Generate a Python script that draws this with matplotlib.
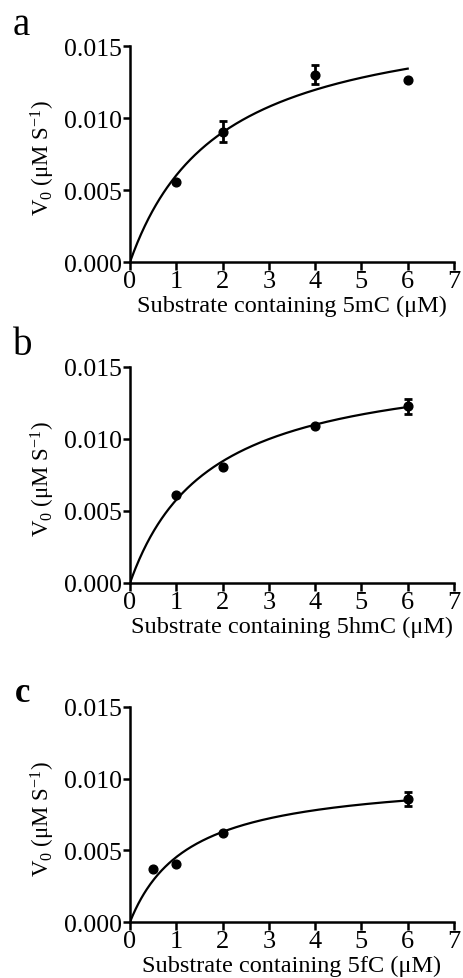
import numpy as np
import matplotlib
matplotlib.use("Agg")
import matplotlib.pyplot as plt

plt.rcParams['font.family'] = ['Liberation Serif', 'DejaVu Serif']
plt.rcParams['mathtext.fontset'] = 'custom'
plt.rcParams['mathtext.rm'] = 'Liberation Serif'
plt.rcParams['mathtext.it'] = 'Liberation Serif:italic'
plt.rcParams['mathtext.default'] = 'rm'

# ---- data ----
panel_letters = ['a', 'b', 'c']
substrates = ['5mC', '5hmC', '5fC']

x_a = [1, 2, 4, 6]
y_a = [0.00558, 0.00905, 0.01302, 0.01267]
err_a = [0.0, 0.00075, 0.00068, 0.0]

x_b = [1, 2, 4, 6]
y_b = [0.00609, 0.00806, 0.01088, 0.01229]
err_b = [0.0, 0.0, 0.0, 0.00052]

x_c = [0.5, 1, 2, 6]
y_c = [0.00367, 0.00405, 0.00623, 0.0086]
err_c = [0.0, 0.0, 0.0, 0.00049]

# Michaelis-Menten fit parameters (Vmax, Km)
vmax = [0.01781, 0.01573, 0.01028]
km = [1.958, 1.722, 1.27]

xs = [x_a, x_b, x_c]
ys = [y_a, y_b, y_c]
errs = [err_a, err_b, err_c]

x_ticks = [0, 1, 2, 3, 4, 5, 6, 7]
y_ticks = [0.000, 0.005, 0.010, 0.015]

# ---- figure ----
W, H = 463, 979
fig = plt.figure(figsize=(W / 100, H / 100), dpi=100)

# axes rectangles in pixels: (left, top, right, bottom)
rects = [(130, 47, 454, 263), (130, 368, 454, 584), (130, 708, 454, 923)]
# panel letters: (left x, baseline y) in pixels, size, weight
letters = [(13, 35, 28, 'normal'), (13, 355, 28, 'normal'), (15, 702, 25, 'bold')]

for i in range(3):
    l, t, r, b = rects[i]
    h = b - t
    ax = fig.add_axes([l / W, 1 - b / H, (r - l) / W, h / H])
    xx = np.linspace(0, max(xs[i]), 300)
    ax.plot(xx, vmax[i] * xx / (km[i] + xx), color='black', lw=1.6, zorder=2)
    e = np.array(errs[i])
    ax.errorbar(xs[i], ys[i], yerr=np.where(e > 0, e, np.nan), fmt='o', color='black',
                ms=6.3, elinewidth=2, capsize=3, capthick=2, zorder=3)
    ax.set_xlim(0, 7)
    ax.set_ylim(0, 0.015)
    ax.set_xticks(x_ticks)
    ax.set_yticks(y_ticks)
    ax.set_yticklabels([f"{v:.3f}" for v in y_ticks])
    for s in ['top', 'right']:
        ax.spines[s].set_visible(False)
    for s in ['left', 'bottom']:
        ax.spines[s].set_linewidth(1.8)
    ax.tick_params(axis='both', direction='out', width=1.8)
    ax.tick_params(axis='y', length=5, pad=0.5, labelsize=18.5)
    ax.tick_params(axis='x', length=6, pad=0, labelsize=19)
    ax.set_xlabel(f"Substrate containing {substrates[i]} (\u03bcM)", fontsize=17.5, va='top')
    ax.xaxis.set_label_coords(0.5, -33 / h)
    ax.set_ylabel("V$_0$ (\u03bcM S$^{-1}$)", fontsize=16.5, va='bottom')
    ax.yaxis.set_label_coords(-73 / (r - l), 0.485)
    lx, ly, ls, lw = letters[i]
    fig.text(lx / W, 1 - ly / H, panel_letters[i], fontsize=ls, fontweight=lw,
             ha='left', va='baseline')

fig.savefig('out.png', dpi=100)
